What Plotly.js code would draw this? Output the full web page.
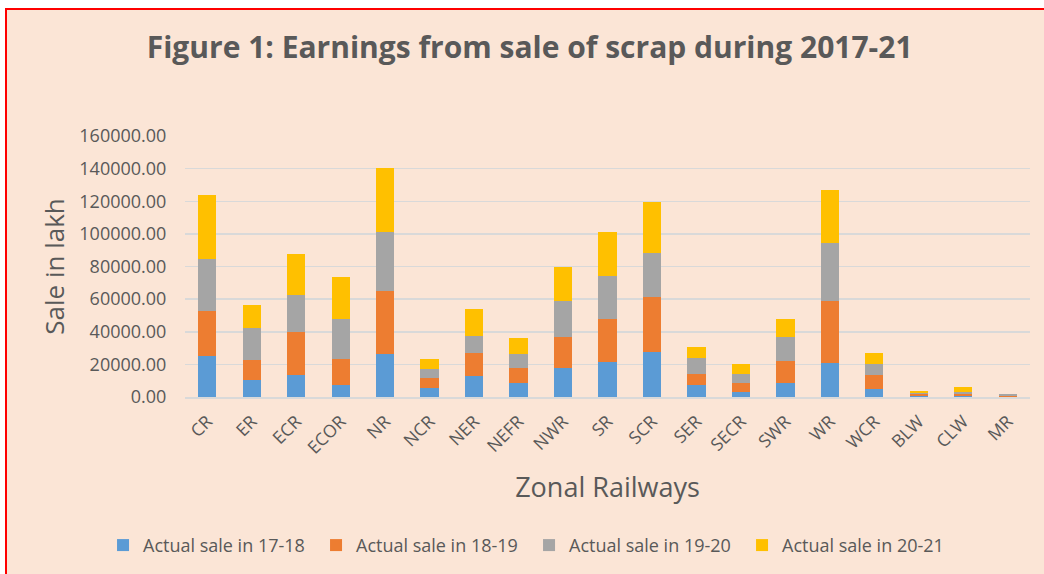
<!DOCTYPE html>
<html>
<head>
<meta charset="utf-8">
<script src="https://cdn.plot.ly/plotly-3.0.1.min.js"></script>
<style>
  html, body { margin: 0; padding: 0; background: #ffffff; width: 1044px; height: 574px; overflow: hidden; }
  #frame { position: absolute; left: 5px; top: 8px; width: 1037px; height: 564px;
           border-left: 2px solid #ff0000; border-top: 2px solid #ff0000; background: #FBE5D6; }
  #chart { width: 1037px; height: 564px; }
</style>
</head>
<body>
<div id="frame"><div id="chart"></div></div>
<script>
const categories = ["CR","ER","ECR","ECOR","NR","NCR","NER","NEFR","NWR","SR","SCR","SER","SECR","SWR","WR","WCR","BLW","CLW","MR"];
const sale1718 = [25000,10400,13600,7100,26600,5500,12800,8500,17500,21500,27400,7100,3250,8300,21100,4700,400,800,200];
const sale1819 = [27600,12000,26400,16450,38200,6100,14000,9350,19250,26200,33900,7100,5300,14000,37800,8900,1400,800,600];
const sale1920 = [32100,20100,22500,24150,36150,5300,10550,8750,22150,26200,27200,9550,5700,14600,35700,6700,400,1650,800];
const sale2021 = [39000,13800,25400,25600,39200,6100,16450,9550,20700,27000,30900,6700,5700,11200,32300,6900,1250,2850,400];
const seriesNames = ["Actual sale in 17-18","Actual sale in 18-19","Actual sale in 19-20","Actual sale in 20-21"];
const yTickVals = [0,20000,40000,60000,80000,100000,120000,140000,160000];
const yTickText = ["0.00","20000.00","40000.00","60000.00","80000.00","100000.00","120000.00","140000.00","160000.00"];

const colors = ["#5B9BD5","#ED7D31","#A5A5A5","#FFC000"];
const seriesValues = [sale1718, sale1819, sale1920, sale2021];

const font = "'Open Sans', 'DejaVu Sans', sans-serif";
const traces = seriesValues.map((vals, i) => ({
  type: "bar",
  name: seriesNames[i],
  x: categories,
  y: vals,
  marker: { color: colors[i], line: { width: 0 } },
  hoverinfo: "x+y+name"
}));

const layout = {
  width: 1037,
  height: 564,
  barmode: "stack",
  bargap: 0.59,
  paper_bgcolor: "#FBE5D6",
  plot_bgcolor: "#FBE5D6",
  margin: { l: 178, r: 14, t: 126, b: 176 },
  font: { family: font, color: "#595959" },
  title: {
    text: "<b>Figure 1: Earnings from sale of scrap during 2017-21</b>",
    font: { family: font, size: 30, color: "#595959" },
    x: 0.504, xref: "container", xanchor: "center",
    y: 1 - 37/564, yref: "container", yanchor: "middle"
  },
  xaxis: {
    type: "category",
    tickangle: -45,
    tickfont: { family: font, size: 17.5, color: "#595959" },
    showline: true, linecolor: "#D9D9D9", linewidth: 1.5,
    ticks: "outside", ticklen: 6, tickcolor: "rgba(0,0,0,0)",
    title: { text: "Zonal Railways", font: { family: font, size: 27, color: "#595959" }, standoff: 20 },
    fixedrange: true
  },
  yaxis: {
    range: [0, 160000],
    tickvals: yTickVals,
    ticktext: yTickText,
    tickfont: { family: font, size: 18, color: "#595959" },
    showgrid: true, gridcolor: "#D9D9D9", gridwidth: 1.5,
    zeroline: false,
    ticks: "outside", ticklen: 14, tickcolor: "rgba(0,0,0,0)",
    title: { text: "Sale in lakh", font: { family: font, size: 26, color: "#595959" }, standoff: 7 },
    fixedrange: true
  },
  legend: {
    orientation: "h",
    x: -0.097, xanchor: "left",
    y: -0.5625, yanchor: "middle",
    entrywidth: 168,
    font: { family: font, size: 18, color: "#595959" },
    bgcolor: "rgba(0,0,0,0)",
    traceorder: "normal"
  },
  showlegend: true
};

Plotly.newPlot("chart", traces, layout, { displayModeBar: false, staticPlot: true });
</script>
</body>
</html>
